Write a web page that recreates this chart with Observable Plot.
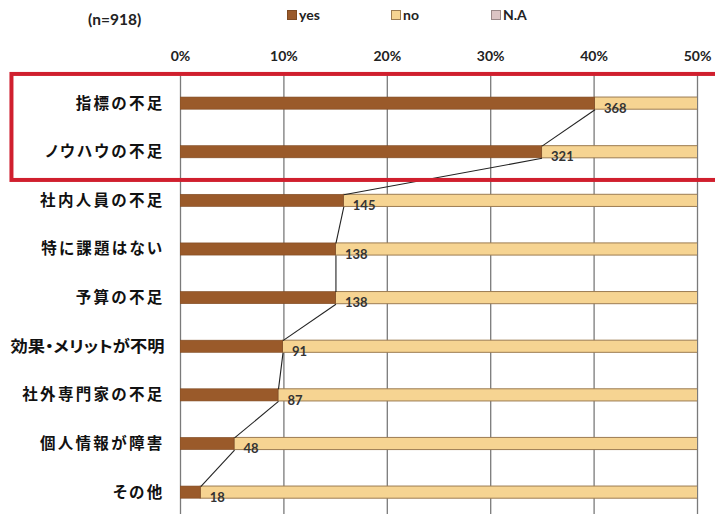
<!DOCTYPE html>
<html>
<head>
<meta charset="utf-8">
<script src="https://cdn.jsdelivr.net/npm/d3@7"></script>
<script src="https://cdn.jsdelivr.net/npm/@observablehq/plot@0.6"></script>
<style>
  html, body { margin: 0; padding: 0; background: #fff; }
  #wrap { width: 715px; }
  #header { position: relative; height: 40px; font-family: Lato, "Open Sans", sans-serif; font-weight: 700; color: #222; }
  #header .n { position: absolute; left: 88px; top: 10px; font-size: 15.5px; }
  #header .leg { position: absolute; top: 6px; font-size: 14px; display: flex; align-items: center; gap: 2px; }
  #header .sw { display: inline-block; width: 10px; height: 10px; box-sizing: border-box; border: 1px solid #8a6a48; }
  svg { display: block; }
  g[aria-label="y-axis tick label"] text { letter-spacing: 2.3px; font-feature-settings: "palt"; }
</style>
</head>
<body>
<div id="wrap">
  <div id="header"></div>
  <div id="chart"></div>
</div>
<script>
const total = 918;
const categories = ["指標の不足","ノウハウの不足","社内人員の不足","特に課題はない","予算の不足","効果・メリットが不明","社外専門家の不足","個人情報が障害","その他"];
const yesCounts = [368, 321, 145, 138, 138, 91, 87, 48, 18];
const noCounts  = [535, 582, 758, 765, 765, 812, 816, 855, 885];
const naCounts  = [15, 15, 15, 15, 15, 15, 15, 15, 15];
const seriesNames = ["yes", "no", "N.A"];
const seriesColors = ["#9a5a2a", "#f6d492", "#dcc4c4"];
const seriesStrokes = ["#7e4a22", "#9c7c52", "#9a8888"];
const xTicks = [0, 10, 20, 30, 40, 50];
const highlighted = ["指標の不足", "ノウハウの不足"];

// header: sample size + legend
const header = document.getElementById("header");
const nEl = document.createElement("span");
nEl.className = "n"; nEl.textContent = `(n=${total})`;
header.appendChild(nEl);
const legLeft = [287, 391, 491];
seriesNames.forEach((s, i) => {
  const el = document.createElement("span");
  el.className = "leg";
  el.style.left = legLeft[i] + "px";
  el.innerHTML = `<span class="sw" style="background:${seriesColors[i]};border-color:${seriesStrokes[i]}"></span><span>${s}</span>`;
  header.appendChild(el);
});

// data
const half = 0.125;
const rows = [];
categories.forEach((c, i) => {
  const vals = [yesCounts[i], noCounts[i], naCounts[i]];
  let acc = 0;
  vals.forEach((v, k) => {
    const p = v / total * 100;
    rows.push({cat: c, i, series: seriesNames[k], x1: acc, x2: acc + p, y1: i - half, y2: i + half});
    acc += p;
  });
});
const yesPts = categories.map((c, i) => ({cat: c, i, pct: yesCounts[i] / total * 100, n: yesCounts[i]}));
const links = d3.pairs(yesPts).map(([a, b]) => ({x1: a.pct, y1: a.i + half, x2: b.pct, y2: b.i - half}));
const hiIdx = highlighted.map(h => categories.indexOf(h));
const box = [{y1: d3.min(hiIdx) - 0.6, y2: d3.max(hiIdx) + 0.58}];

const plot = Plot.plot({
  width: 715,
  height: 474,
  marginLeft: 180,
  marginRight: 18,
  marginTop: 32,
  marginBottom: 0,
  style: {fontFamily: "Lato, 'Open Sans', sans-serif", background: "transparent"},
  x: {domain: [0, 50], axis: null},
  y: {domain: [8.45, -0.64], axis: null},
  color: {domain: seriesNames, range: seriesColors},
  marks: [
    Plot.ruleX(xTicks, {stroke: "#7a7a7a", strokeWidth: 1.3}),
    Plot.rect(rows.filter(d => d.series !== "yes"), {x1: "x1", x2: "x2", y1: "y1", y2: "y2", fill: "series", stroke: d => seriesStrokes[seriesNames.indexOf(d.series)], strokeWidth: 1, clip: true}),
    Plot.rect(rows.filter(d => d.series === "yes"), {x1: "x1", x2: "x2", y1: "y1", y2: "y2", fill: "series", stroke: seriesStrokes[0], strokeWidth: 0.6, clip: true}),
    Plot.link(links, {x1: "x1", y1: "y1", x2: "x2", y2: "y2", stroke: "#222", strokeWidth: 1.1}),
    Plot.text(yesPts, {x: "pct", y: "i", text: d => String(d.n), textAnchor: "start", dx: 9, dy: 5, fontSize: 13, fontWeight: 700, fill: "#333"}),
    Plot.axisX(xTicks, {anchor: "top", tickSize: 0, tickPadding: 12, tickFormat: d => d + "%", fontSize: 14, fontWeight: 700, fill: "#222"}),
    Plot.axisY(categories.map((c, i) => i), {anchor: "left", tickSize: 0, tickPadding: 16, tickFormat: i => categories[i], fontSize: 15.5, fontWeight: 700, fill: "#111", fontFamily: "'Noto Sans CJK JP', sans-serif"}),
    Plot.rect(box, {x1: -16.3, x2: 53, y1: "y1", y2: "y2", fill: "none", stroke: "#d01f2e", strokeWidth: 4, clip: false})
  ]
});
document.getElementById("chart").appendChild(plot);
// keep long category labels inside the left margin
d3.select(plot).selectAll('g[aria-label="y-axis tick label"] text').each(function() {
  const len = this.getComputedTextLength();
  if (len > 156) {
    this.style.letterSpacing = "0px";
    this.setAttribute("textLength", 154);
    this.setAttribute("lengthAdjust", "spacingAndGlyphs");
  }
});
</script>
</body>
</html>
